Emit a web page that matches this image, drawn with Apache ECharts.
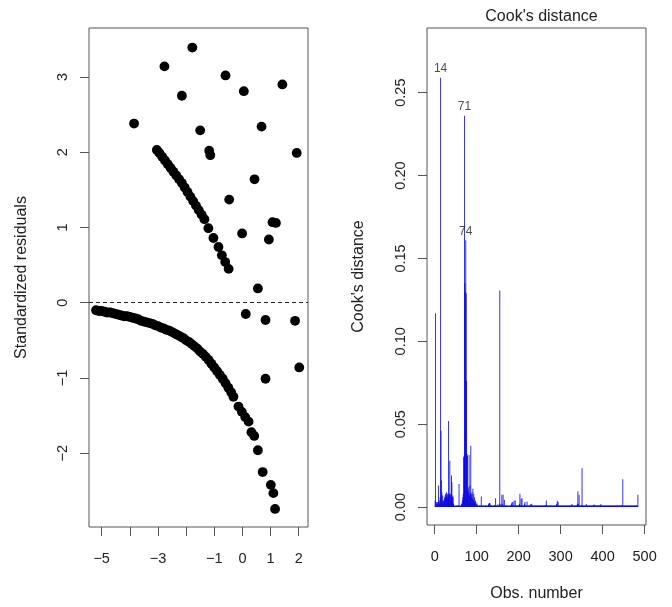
<!DOCTYPE html>
<html><head><meta charset="utf-8">
<script src="https://cdn.jsdelivr.net/npm/echarts@6/dist/echarts.min.js"></script>
<style>html,body{margin:0;padding:0;background:#fff}#c{width:672px;height:607px}</style>
</head><body><div id="c"></div>
<script>
// ---- Left panel: standardized residuals ----
const lowerCurveX = [-5.20,-5.10,-5.00,-4.90,-4.80,-4.70,-4.60,-4.50,-4.40,-4.30,-4.20,-4.10,-4.00,-3.90,-3.80,-3.70,-3.60,-3.50,-3.40,-3.30,-3.20,-3.10,-3.00,-2.90,-2.80,-2.70,-2.60,-2.50,-2.40,-2.30,-2.20,-2.10,-2.00,-1.90,-1.80,-1.70,-1.60,-1.50,-1.40,-1.30,-1.20,-1.10,-1.00,-0.90,-0.80,-0.70,-0.60,-0.50,-0.40,-0.32];
const lowerCurveY = [-0.10,-0.11,-0.11,-0.12,-0.13,-0.13,-0.14,-0.15,-0.16,-0.17,-0.18,-0.18,-0.19,-0.20,-0.21,-0.22,-0.24,-0.25,-0.26,-0.27,-0.28,-0.30,-0.31,-0.33,-0.34,-0.36,-0.37,-0.39,-0.41,-0.43,-0.45,-0.47,-0.50,-0.52,-0.55,-0.58,-0.61,-0.65,-0.68,-0.72,-0.76,-0.81,-0.86,-0.91,-0.96,-1.01,-1.07,-1.13,-1.19,-1.25];
const lowerTailX = [-0.14,-0.02,0.10,0.22,0.32,0.42,0.55,0.72,1.01,1.10,1.16];
const lowerTailY = [-1.38,-1.45,-1.52,-1.58,-1.72,-1.77,-1.96,-2.25,-2.42,-2.53,-2.74];
const upperCurveX = [-3.04,-2.95,-2.85,-2.75,-2.65,-2.55,-2.45,-2.35,-2.25,-2.15,-2.05,-1.95,-1.85,-1.75,-1.65,-1.55,-1.45,-1.35,-1.21,-1.03,-0.85,-0.73,-0.61,-0.49];
const upperCurveY = [2.03,1.99,1.94,1.89,1.84,1.79,1.74,1.69,1.64,1.59,1.53,1.47,1.41,1.35,1.29,1.23,1.17,1.11,0.99,0.86,0.74,0.63,0.54,0.45];
const scatterX = [-3.85,-2.77,-1.78,-2.15,-0.60,0.05,1.42,-1.50,0.68,-1.18,-1.14,1.93,0.43,-0.47,1.07,1.19,-0.01,0.94,0.55,0.12,0.82,1.87,2.02,0.82];
const scatterY = [2.38,3.14,3.39,2.75,3.02,2.81,2.90,2.29,2.34,2.02,1.96,1.99,1.64,1.37,1.07,1.06,0.92,0.84,0.19,-0.15,-0.23,-0.24,-0.86,-1.01];
const leftTicksX = [-5,-4,-3,-2,-1,0,1,2];
const leftLabelsX = [-5,-3,-1,0,1,2];
const leftTicksY = [-2,-1,0,1,2,3];

// ---- Right panel: Cook's distance by observation number (1..484) ----
const cookDist = [
0.004,0.117,0.002,0.003,0.001,0.002,0.003,0.002,0.013,0.003,
0.004,0.002,0.006,0.259,0.046,0.016,0.009,0.004,0.007,0.002,
0.004,0.003,0.005,0.006,0.007,0.008,0.006,0.009,0.007,0.008,
0.006,0.008,0.052,0.007,0.008,0.028,0.007,0.008,0.006,0.019,
0.015,0.006,0.007,0.006,0.002,0.001,0.0008,0.001,0.0006,0.001,
0.0008,0.001,0.0007,0.001,0.0009,0.001,0.0008,0.014,0.001,0.0008,
0.001,0.0007,0.001,0.002,0.002,0.004,0.006,0.008,0.030,0.031,
0.236,0.135,0.130,0.161,0.129,0.076,0.032,0.031,0.010,0.012,
0.009,0.0315,0.007,0.013,0.008,0.037,0.008,0.006,0.009,0.005,
0.011,0.004,0.008,0.003,0.006,0.002,0.004,0.003,0.002,0.001,
0.002,0.001,0.0008,0.001,0.0007,0.001,0.0009,0.001,0.0008,0.001,
0.0064,0.001,0.0008,0.001,0.0007,0.001,0.0009,0.001,0.0008,0.001,
0.001,0.0008,0.001,0.0009,0.001,0.0007,0.001,0.0015,0.002,0.0024,
0.0024,0.002,0.001,0.0008,0.001,0.0009,0.001,0.0007,0.001,0.0008,
0.001,0.0012,0.0009,0.001,0.0054,0.001,0.0008,0.001,0.0009,0.0015,
0.001,0.0008,0.001,0.002,0.1306,0.001,0.0009,0.002,0.001,0.0074,
0.001,0.002,0.0074,0.001,0.0009,0.0044,0.001,0.0008,0.001,0.0009,
0.001,0.0008,0.001,0.0009,0.001,0.0007,0.001,0.0008,0.001,0.0009,
0.001,0.0008,0.002,0.0028,0.001,0.003,0.001,0.0009,0.004,0.001,
0.0008,0.004,0.001,0.0009,0.001,0.0008,0.001,0.0009,0.001,0.0012,
0.001,0.002,0.008,0.001,0.0009,0.005,0.001,0.0054,0.001,0.0008,
0.001,0.0009,0.001,0.002,0.003,0.001,0.0008,0.001,0.0009,0.0034,
0.001,0.0008,0.001,0.0009,0.001,0.0008,0.0012,0.001,0.0018,0.001,
0.002,0.001,0.0009,0.001,0.0008,0.001,0.0009,0.001,0.0008,0.001,
0.0009,0.001,0.0008,0.001,0.0009,0.001,0.0008,0.001,0.0009,0.001,
0.0008,0.001,0.0009,0.001,0.0008,0.001,0.0009,0.001,0.0008,0.001,
0.0009,0.001,0.0008,0.0012,0.001,0.004,0.001,0.0008,0.001,0.0009,
0.001,0.0008,0.001,0.0009,0.001,0.0008,0.001,0.0009,0.001,0.0008,
0.001,0.0009,0.001,0.0008,0.001,0.0009,0.001,0.0008,0.001,0.0015,
0.002,0.0038,0.001,0.003,0.001,0.0008,0.001,0.0009,0.001,0.0008,
0.001,0.0009,0.001,0.0008,0.001,0.0009,0.001,0.0008,0.001,0.0009,
0.001,0.0008,0.001,0.0009,0.001,0.0008,0.001,0.0009,0.001,0.0008,
0.001,0.0009,0.001,0.0008,0.0012,0.001,0.0018,0.001,0.0008,0.001,
0.0009,0.001,0.0008,0.001,0.0009,0.001,0.0008,0.001,0.0012,0.002,
0.0096,0.001,0.002,0.0074,0.001,0.0009,0.001,0.0008,0.001,0.0012,
0.0234,0.001,0.0008,0.001,0.0009,0.001,0.0008,0.001,0.0009,0.001,
0.0018,0.001,0.0008,0.001,0.0009,0.001,0.0008,0.001,0.0009,0.001,
0.0008,0.001,0.0009,0.001,0.0008,0.001,0.0009,0.0012,0.001,0.0015,
0.001,0.0008,0.001,0.0009,0.001,0.0008,0.001,0.0009,0.001,0.0008,
0.001,0.0009,0.001,0.0012,0.001,0.0018,0.001,0.0008,0.001,0.0009,
0.001,0.0008,0.001,0.0009,0.001,0.0008,0.001,0.0009,0.001,0.0008,
0.001,0.0009,0.001,0.0008,0.001,0.0009,0.001,0.0008,0.001,0.0009,
0.001,0.0008,0.001,0.0009,0.001,0.0008,0.001,0.0009,0.001,0.0008,
0.001,0.0009,0.001,0.0008,0.001,0.0009,0.001,0.0008,0.001,0.0009,
0.001,0.0008,0.001,0.0009,0.001,0.0012,0.001,0.0168,0.001,0.0008,
0.001,0.0009,0.001,0.0008,0.001,0.0009,0.001,0.0008,0.001,0.0009,
0.001,0.0008,0.001,0.0009,0.001,0.0008,0.001,0.0009,0.001,0.0008,
0.001,0.0009,0.001,0.0008,0.001,0.0009,0.001,0.0008,0.001,0.0009,
0.001,0.0008,0.001,0.0074
];
const cookLabelObs = [14, 71, 74];
const rightTicksX = [0,100,200,300,400,500];
const rightTicksY = [0,0.05,0.10,0.15,0.20,0.25];

const FONT = 'Liberation Sans, Arial, Helvetica, sans-serif';
const TXT = '#222';
const LINE = '#555';
const minus = v => String(v).replace('-', '\u2212');
const pairs = (xs, ys) => xs.map((x, i) => [x, ys[i]]);

const chart = echarts.init(document.getElementById('c'), null, {renderer: 'canvas'});
const axisCommon = {
  axisLine: {show: false, onZero: false},
  splitLine: {show: false},
  axisTick: {show: true, inside: false, length: 9, lineStyle: {color: LINE, width: 1}},
};
chart.setOption({
  animation: false,
  backgroundColor: '#fff',
  textStyle: {fontFamily: FONT},
  title: {
    text: "Cook's distance", left: 536.5, top: 4, textAlign: 'center',
    textStyle: {fontFamily: FONT, fontSize: 16, fontWeight: 'normal', color: TXT}
  },
  grid: [
    {left: 89, right: 364, top: 28, bottom: 80, show: true, borderColor: LINE, borderWidth: 1, backgroundColor: 'transparent'},
    {left: 427, right: 26, top: 28, bottom: 80, show: true, borderColor: LINE, borderWidth: 1, backgroundColor: 'transparent'}
  ],
  xAxis: [
    Object.assign({}, axisCommon, {
      type: 'value', gridIndex: 0, min: -5.45, max: 2.33, position: 'bottom',
      axisTick: Object.assign({}, axisCommon.axisTick, {customValues: leftTicksX}),
      axisLabel: {customValues: leftLabelsX, formatter: minus, margin: 24, fontSize: 14.5, color: TXT, fontFamily: FONT}
    }),
    Object.assign({}, axisCommon, {
      type: 'value', gridIndex: 1, min: -18.3, max: 503.3, position: 'bottom',
      name: 'Obs. number', nameLocation: 'middle', nameGap: 61,
      nameTextStyle: {fontSize: 16, color: TXT, fontFamily: FONT},
      axisTick: Object.assign({}, axisCommon.axisTick, {customValues: rightTicksX}),
      axisLabel: {customValues: rightTicksX, margin: 24, fontSize: 14.5, color: TXT, fontFamily: FONT}
    })
  ],
  yAxis: [
    Object.assign({}, axisCommon, {
      type: 'value', gridIndex: 0, min: -2.98, max: 3.65, position: 'left',
      name: 'Standardized residuals', nameLocation: 'middle', nameGap: 59,
      nameTextStyle: {fontSize: 16, color: TXT, fontFamily: FONT},
      axisTick: Object.assign({}, axisCommon.axisTick, {customValues: leftTicksY}),
      axisLabel: {customValues: leftTicksY, formatter: minus, rotate: 90, margin: 19, fontSize: 14.5, color: TXT, fontFamily: FONT}
    }),
    Object.assign({}, axisCommon, {
      type: 'value', gridIndex: 1, min: -0.0108, max: 0.289, position: 'left',
      name: "Cook's distance", nameLocation: 'middle', nameGap: 60,
      nameTextStyle: {fontSize: 16, color: TXT, fontFamily: FONT},
      axisTick: Object.assign({}, axisCommon.axisTick, {customValues: rightTicksY}),
      axisLabel: {customValues: rightTicksY, formatter: v => Number(v).toFixed(2), rotate: 90, margin: 19, fontSize: 14.5, color: TXT, fontFamily: FONT}
    })
  ],
  series: [
    {
      type: 'scatter', xAxisIndex: 0, yAxisIndex: 0, symbolSize: 9.8,
      itemStyle: {color: '#000', opacity: 1},
      data: pairs(lowerCurveX, lowerCurveY).concat(pairs(lowerTailX, lowerTailY), pairs(upperCurveX, upperCurveY), pairs(scatterX, scatterY)),
      markLine: {
        silent: true, symbol: 'none', label: {show: false},
        lineStyle: {color: '#222', type: [4, 3], width: 1},
        data: [{yAxis: 0}]
      },
      z: 3
    },
    {
      type: 'bar', xAxisIndex: 1, yAxisIndex: 1, barWidth: 1,
      itemStyle: {color: 'rgba(0,0,225,0.8)'},
      data: cookDist.map((v, i) => [i + 1, v])
    },
    {
      type: 'scatter', xAxisIndex: 1, yAxisIndex: 1, symbolSize: 0, silent: true,
      label: {show: true, position: 'top', distance: 3, formatter: p => String(p.value[0]), fontSize: 12, color: TXT, fontFamily: FONT},
      data: cookLabelObs.map(o => [o, cookDist[o - 1]])
    }
  ]
});
</script>
</body></html>
